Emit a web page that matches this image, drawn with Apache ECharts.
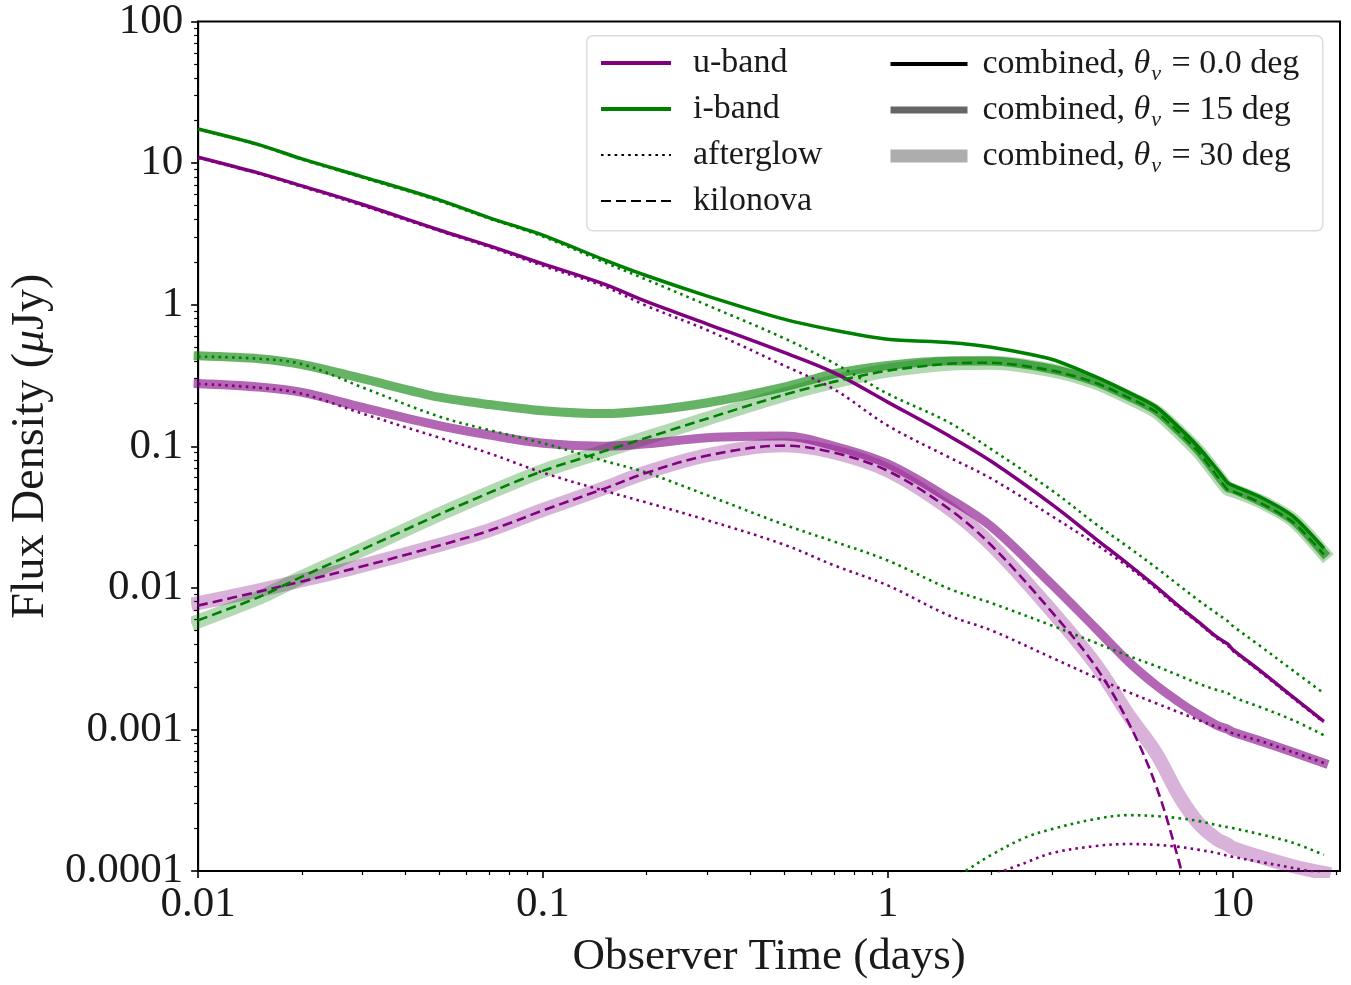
<!DOCTYPE html>
<html>
<head>
<meta charset="utf-8">
<script src="https://cdn.jsdelivr.net/npm/echarts@6/dist/echarts.min.js"></script>
<style>
html,body{margin:0;padding:0;background:#fff;}
#chart{width:1351px;height:985px;}
</style>
</head>
<body>
<div id="chart"></div>
<script>
// ---------------- data ----------------
const days = [0.01, 0.015, 0.02, 0.03, 0.05, 0.07, 0.1, 0.15, 0.2, 0.3, 0.5, 0.7, 1, 1.5, 2, 3, 4, 5, 6, 7, 8, 9, 9.7, 10, 12, 15, 18.4];

// theta_v = 0 deg
const uComb0  = [11.0, 8.5, 6.9, 5.1, 3.37, 2.6, 1.94, 1.40, 1.05, 0.73, 0.46, 0.33, 0.205, 0.119, 0.078, 0.0387, 0.0223, 0.0146, 0.0102, 0.0074, 0.0057, 0.0045, 0.0040, 0.00368, 0.00261, 0.00169, 0.00114];
const uAfter0 = [10.9, 8.4, 6.8, 5.0, 3.32, 2.55, 1.88, 1.35, 0.98, 0.66, 0.372, 0.252, 0.14, 0.084, 0.059, 0.032, 0.0204, 0.0140, 0.0099, 0.0072, 0.0056, 0.0044, 0.0039, 0.0036, 0.00256, 0.00166, 0.00112];
const iComb0  = [17.4, 13.5, 10.7, 8.0, 5.5, 4.1, 3.1, 2.08, 1.60, 1.15, 0.79, 0.66, 0.57, 0.54, 0.50, 0.41, 0.31, 0.24, 0.19, 0.135, 0.097, 0.069, 0.055, 0.053, 0.044, 0.032, 0.019];
const iAfter0 = [17.3, 13.4, 10.6, 7.9, 5.4, 4.05, 3.03, 2.0, 1.50, 0.99, 0.58, 0.385, 0.235, 0.148, 0.095, 0.0486, 0.0284, 0.0193, 0.0139, 0.0104, 0.0081, 0.0066, 0.0058, 0.0054, 0.0039, 0.0026, 0.0018];

// theta_v = 15 deg
const uComb15  = [0.277, 0.262, 0.240, 0.188, 0.140, 0.120, 0.105, 0.100, 0.104, 0.115, 0.118, 0.100, 0.075, 0.043, 0.027, 0.0105, 0.0052, 0.0030, 0.00205, 0.00156, 0.00126, 0.00107, 0.00100, 0.00096, 0.00083, 0.00069, 0.00058];
const uAfter15 = [0.276, 0.259, 0.235, 0.170, 0.115, 0.089, 0.065, 0.0486, 0.040, 0.030, 0.0202, 0.0144, 0.0104, 0.0064, 0.0050, 0.0032, 0.00233, 0.00183, 0.00153, 0.00132, 0.00116, 0.00104, 0.00098, 0.00094, 0.00083, 0.00069, 0.00058];
const iComb15  = [0.435, 0.415, 0.378, 0.300, 0.222, 0.197, 0.178, 0.170, 0.178, 0.203, 0.262, 0.325, 0.372, 0.400, 0.400, 0.350, 0.287, 0.225, 0.179, 0.128, 0.092, 0.064, 0.051, 0.050, 0.041, 0.030, 0.0176];
const iAfter15 = [0.43, 0.415, 0.38, 0.26, 0.162, 0.13, 0.105, 0.079, 0.065, 0.045, 0.028, 0.0212, 0.0156, 0.0099, 0.0078, 0.0054, 0.0041, 0.0033, 0.0028, 0.0024, 0.0021, 0.0019, 0.0018, 0.0017, 0.00144, 0.00116, 0.00091];

// theta_v = 30 deg
const uComb30 = [0.0078, 0.0096, 0.0113, 0.0144, 0.0201, 0.0256, 0.0355, 0.0505, 0.0655, 0.0865, 0.1015, 0.0905, 0.0675, 0.0366, 0.0201, 0.0068, 0.0029, 0.00126, 0.00068, 0.00034, 0.000215, 0.000168, 0.000153, 0.000146, 0.000126, 0.000108, 0.000097];
const iComb30 = [0.0058, 0.0085, 0.0119, 0.0186, 0.033, 0.047, 0.067, 0.092, 0.115, 0.157, 0.231, 0.286, 0.342, 0.383, 0.389, 0.343, 0.282, 0.221, 0.176, 0.126, 0.091, 0.063, 0.050, 0.049, 0.041, 0.030, 0.0175];
const uAfter30Days = [2, 2.5, 3, 4, 5, 6, 7, 8, 9, 10, 12, 15, 18.4];
const uAfter30 = [0.000093, 0.000114, 0.000134, 0.000150, 0.000155, 0.000153, 0.000148, 0.000141, 0.000134, 0.000126, 0.000116, 0.000105, 0.000095];
const iAfter30Days = [1.5, 1.68, 2, 2.5, 3, 4, 5, 6, 7, 8, 9, 10, 12, 15, 18.4];
const iAfter30 = [0.000084, 0.0001, 0.000130, 0.000172, 0.000198, 0.000233, 0.000248, 0.000244, 0.000236, 0.000225, 0.000211, 0.000201, 0.000182, 0.000158, 0.000130];

// kilonova
const iKilo = [0.0059, 0.0086, 0.012, 0.0187, 0.033, 0.047, 0.067, 0.092, 0.115, 0.157, 0.231, 0.286, 0.342, 0.383, 0.389, 0.342, 0.281, 0.220, 0.175, 0.125, 0.090, 0.062, 0.049, 0.048, 0.040, 0.029, 0.0172];
const uKiloDays = [0.01, 0.015, 0.02, 0.03, 0.05, 0.07, 0.1, 0.15, 0.2, 0.3, 0.5, 0.7, 1, 1.5, 2, 3, 4, 5, 6, 7, 7.3];
const uKilo = [0.0075, 0.0094, 0.0111, 0.0142, 0.0199, 0.0254, 0.0352, 0.050, 0.065, 0.086, 0.101, 0.090, 0.067, 0.0363, 0.0199, 0.0067, 0.0028, 0.00111, 0.00040, 0.000116, 0.000073];

// axis ticks
const xTickValues = [0.01, 0.1, 1, 10];
const xTickLabels = ['0.01', '0.1', '1', '10'];
const yTickValues = [0.0001, 0.001, 0.01, 0.1, 1, 10, 100];
const yTickLabels = ['0.0001', '0.001', '0.01', '0.1', '1', '10', '100'];

// ---------------- styling ----------------
const PURPLE = '#800080';
const GREEN = '#008000';
const FONT = 'Liberation Serif';
const DOT = [2.6, 4.2];
const DASH = [10, 5];

function minorTicks(decades, maxV) {
  const out = [];
  decades.forEach(d => { for (let k = 2; k <= 9; k++) { const v = +(k * d).toPrecision(3); if (v < maxV) out.push(v); } });
  return out;
}
const xMinor = minorTicks([0.01, 0.1, 1, 10], 20.5);
const yMinor = minorTicks([0.0001, 0.001, 0.01, 0.1, 1, 10], 100);

function pairs(xs, ys) { return xs.map((x, i) => [x, ys[i]]); }
function line(xs, ys, color, width, opacity, type, cap, smooth) {
  return {
    type: 'line', data: pairs(xs, ys), symbol: 'none', showSymbol: false,
    smooth: smooth == null ? 0.35 : smooth, silent: true, animation: false,
    xAxisIndex: 0, yAxisIndex: 0,
    lineStyle: { color: color, width: width, opacity: opacity, type: type, cap: cap || 'butt', join: 'round' }
  };
}
function legendSeries(name, color, width, type) {
  return { type: 'line', name: name, data: [], symbol: 'none', showSymbol: false, xAxisIndex: 0, yAxisIndex: 0,
    itemStyle: { color: color, opacity: 0 },
    lineStyle: { color: color, width: width, type: type } };
}

const legendText = {
  'u-band': 'u-band',
  'i-band': 'i-band',
  'afterglow': 'afterglow',
  'kilonova': 'kilonova',
  'c0': 'combined, {it|θ}{sub|v} = 0.0 deg',
  'c15': 'combined, {it|θ}{sub|v} = 15 deg',
  'c30': 'combined, {it|θ}{sub|v} = 30 deg'
};
function legendTextStyle(padLeft) {
  return {
    fontFamily: FONT, fontSize: 34, color: '#1a1a1a', lineHeight: 36, padding: [0, 0, 0, padLeft],
    rich: {
      it: { fontFamily: FONT, fontSize: 34, fontStyle: 'italic', color: '#1a1a1a', lineHeight: 36 },
      sub: { fontFamily: FONT, fontSize: 22, fontStyle: 'italic', color: '#1a1a1a', lineHeight: 22, verticalAlign: 'top', padding: [17, 2, 0, 1] }
    }
  };
}
const hiddenSymbol = { color: 'rgba(0,0,0,0)', opacity: 0, borderWidth: 0 };

const series = [
  // theta = 30 bands
  line(days, uComb30, PURPLE, 14, 0.3, 'solid', 'square'),
  line(days, iComb30, GREEN, 14, 0.3, 'solid', 'square', 0.25),
  // theta = 15 bands
  line(days, uComb15, PURPLE, 9, 0.6, 'solid', 'square'),
  line(days, iComb15, GREEN, 9, 0.6, 'solid', 'square', 0.25),
  // theta = 0 combined
  line(days, uComb0, PURPLE, 3.5, 1, 'solid'),
  line(days, iComb0, GREEN, 3.5, 1, 'solid', null, 0.25),
  // afterglows
  line(days, uAfter0, PURPLE, 2.6, 1, DOT),
  line(days, iAfter0, GREEN, 2.6, 1, DOT),
  line(days, uAfter15, PURPLE, 2.6, 1, DOT),
  line(days, iAfter15, GREEN, 2.6, 1, DOT),
  line(uAfter30Days, uAfter30, PURPLE, 2.6, 1, DOT),
  line(iAfter30Days, iAfter30, GREEN, 2.6, 1, DOT),
  // kilonova
  line(uKiloDays, uKilo, PURPLE, 2.6, 1, DASH),
  line(days, iKilo, GREEN, 2.6, 1, DASH, null, 0.25),
  // legend-only series
  legendSeries('u-band', PURPLE, 4, 'solid'),
  legendSeries('i-band', GREEN, 4, 'solid'),
  legendSeries('afterglow', '#000', 2, DOT),
  legendSeries('kilonova', '#000', 2, DASH),
  legendSeries('c0', '#000', 4, 'solid'),
  legendSeries('c15', 'rgba(0,0,0,0.6)', 7, 'solid'),
  legendSeries('c30', 'rgba(0,0,0,0.32)', 13, 'solid')
];

const axisLabelStyle = { fontFamily: FONT, fontSize: 43, color: '#1a1a1a' };

const option = {
  backgroundColor: '#fff',
  animation: false,
  grid: { left: 197, right: 11, top: 20, bottom: 114, show: true, borderColor: '#000', borderWidth: 2, backgroundColor: 'transparent', containLabel: false },
  graphic: [{
    type: 'rect', left: 586, top: 35, z: 0,
    shape: { width: 736, height: 195, r: 6 },
    style: { fill: 'rgba(255,255,255,0.85)', stroke: '#dcdcdc', lineWidth: 1.5 }
  }],
  legend: [
    {
      data: [
        { name: 'u-band', lineStyle: { width: 4 }, itemStyle: hiddenSymbol },
        { name: 'i-band', lineStyle: { width: 4 }, itemStyle: hiddenSymbol },
        { name: 'afterglow', lineStyle: { width: 2, type: DOT }, itemStyle: hiddenSymbol },
        { name: 'kilonova', lineStyle: { width: 2, type: DASH }, itemStyle: hiddenSymbol }
      ],
      orient: 'vertical', left: 599, top: 45, itemWidth: 70, itemHeight: 16, itemGap: 10, padding: 0,
      itemStyle: hiddenSymbol,
      selectedMode: false, formatter: n => legendText[n], textStyle: legendTextStyle(17), z: 5
    },
    {
      data: [
        { name: 'c0', lineStyle: { width: 4 }, itemStyle: hiddenSymbol },
        { name: 'c15', lineStyle: { width: 7 }, itemStyle: hiddenSymbol },
        { name: 'c30', lineStyle: { width: 13 }, itemStyle: hiddenSymbol }
      ],
      orient: 'vertical', left: 884, top: 46, itemWidth: 77, itemHeight: 16, itemGap: 7, padding: 0,
      itemStyle: hiddenSymbol,
      selectedMode: false, formatter: n => legendText[n], textStyle: legendTextStyle(10), z: 5
    }
  ],
  xAxis: [
    {
      type: 'log', logBase: 10, min: 0.01, max: 20.5, position: 'bottom',
      name: 'Observer Time (days)', nameLocation: 'middle', nameGap: 64,
      nameTextStyle: { fontFamily: FONT, fontSize: 45, color: '#1a1a1a' },
      axisLine: { show: true, lineStyle: { color: '#000', width: 2 } },
      axisTick: { show: true, inside: false, length: 7, lineStyle: { color: '#000', width: 1.6 }, customValues: xTickValues },
      axisLabel: { show: true, margin: 12, customValues: xTickValues, formatter: v => xTickLabels[xTickValues.findIndex(t => Math.abs(Math.log10(t) - Math.log10(v)) < 1e-6)] || '', ...axisLabelStyle },
      splitLine: { show: false }, minorTick: { show: false }
    },
    {
      type: 'log', logBase: 10, min: 0.01, max: 20.5, position: 'bottom',
      axisLine: { show: false },
      axisTick: { show: true, inside: false, length: 4, lineStyle: { color: '#000', width: 1.2 }, customValues: xMinor },
      axisLabel: { show: false }, splitLine: { show: false }
    }
  ],
  yAxis: [
    {
      type: 'log', logBase: 10, min: 0.0001, max: 100, position: 'left',
      name: 'Flux Density ({it|μ}Jy)', nameLocation: 'middle', nameGap: 140, nameRotate: 90,
      nameTextStyle: { fontFamily: FONT, fontSize: 46, color: '#1a1a1a', rich: { it: { fontFamily: FONT, fontSize: 46, fontStyle: 'italic', color: '#1a1a1a' } } },
      axisLine: { show: true, lineStyle: { color: '#000', width: 2 } },
      axisTick: { show: true, inside: false, length: 7, lineStyle: { color: '#000', width: 1.6 }, customValues: yTickValues },
      axisLabel: { show: true, margin: 15, customValues: yTickValues, formatter: v => yTickLabels[yTickValues.findIndex(t => Math.abs(Math.log10(t) - Math.log10(v)) < 1e-6)] || '', ...axisLabelStyle },
      splitLine: { show: false }, minorTick: { show: false }
    },
    {
      type: 'log', logBase: 10, min: 0.0001, max: 100, position: 'left',
      axisLine: { show: false },
      axisTick: { show: true, inside: false, length: 4, lineStyle: { color: '#000', width: 1.2 }, customValues: yMinor },
      axisLabel: { show: false }, splitLine: { show: false }
    }
  ],
  series: series
};

const chart = echarts.init(document.getElementById('chart'), null, { renderer: 'canvas' });
chart.setOption(option);
</script>
</body>
</html>
